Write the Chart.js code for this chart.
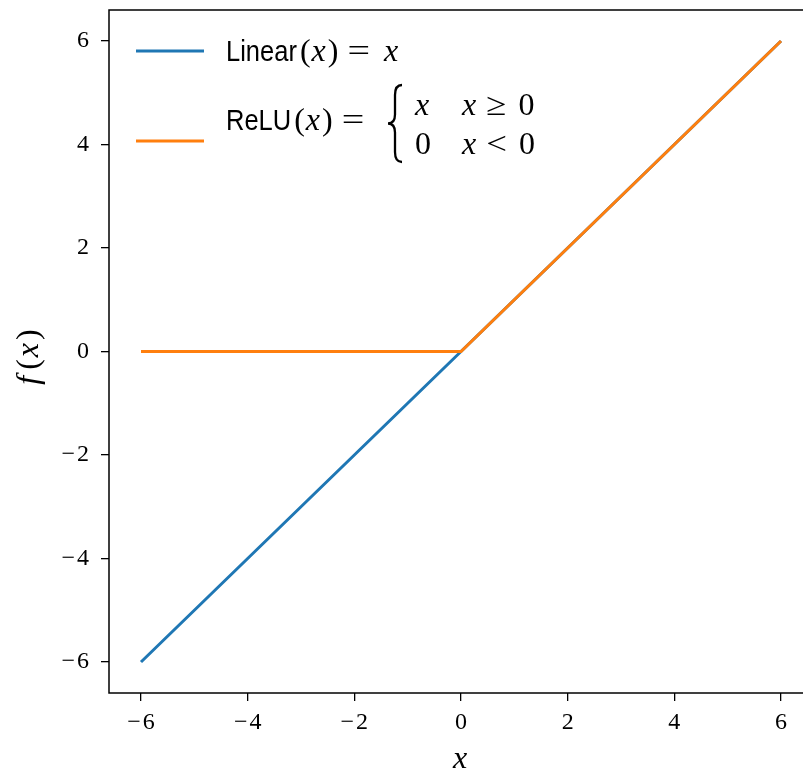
<!DOCTYPE html>
<html>
<head>
<meta charset="utf-8">
<script src="https://cdn.jsdelivr.net/npm/chart.js@4.4.0/dist/chart.umd.min.js"></script>
<style>
  html, body { margin: 0; padding: 0; background: #fff; overflow: hidden; }
  #wrap { width: 803px; height: 771px; overflow: hidden; }
</style>
</head>
<body>
<div id="wrap"><canvas id="reluChart" width="830" height="771"></canvas></div>
<script>
// --- dados ---
const xValues = [-6, -4, -2, 0, 2, 4, 6];
const linearValues = [-6, -4, -2, 0, 2, 4, 6];
const reluValues = [0, 0, 0, 0, 2, 4, 6];
const xTicks = [-6, -4, -2, 0, 2, 4, 6];
const yTicks = [-6, -4, -2, 0, 2, 4, 6];
const xRange = [-6.6, 6.6];
const yRange = [-6.6, 6.6];

const BLUE = '#1f77b4';
const ORANGE = '#ff7f0e';
const SERIF = '"Liberation Serif", serif';
const SANS = '"Liberation Sans", sans-serif';

function minusLabel(v) {
    return v < 0 ? '\u2212\u200A' + Math.abs(v) : String(v);
}

// desenha pedaços de texto com fontes diferentes em sequência
// (número = espaço em px; terceiro item = escala horizontal)
function drawRuns(ctx, runs, x, y) {
    runs.forEach(r => {
        if (typeof r === 'number') { x += r; return; }
        const sx = r[2] || 1;
        ctx.font = r[1];
        ctx.save();
        ctx.translate(x, y);
        ctx.scale(sx, 1);
        ctx.fillText(r[0], 0, 0);
        ctx.restore();
        x += ctx.measureText(r[0]).width * sx;
    });
    return x;
}

function runsWidth(ctx, runs) {
    let w = 0;
    runs.forEach(r => {
        if (typeof r === 'number') { w += r; return; }
        ctx.font = r[1];
        w += ctx.measureText(r[0]).width * (r[2] || 1);
    });
    return w;
}

const frameAndLegend = {
    id: 'frameAndLegend',
    afterDraw(chart) {
        const ctx = chart.ctx;
        const a = chart.chartArea;
        ctx.save();

        // moldura
        ctx.strokeStyle = '#000';
        ctx.lineWidth = 1.5;
        ctx.strokeRect(a.left, a.top, a.right - a.left, a.bottom - a.top);

        // legenda
        const sans = '30px ' + SANS;
        const rm = '32px ' + SERIF;
        const it = 'italic 32px ' + SERIF;
        const sq = 0.85, wide = 1.25;
        const hx1 = a.left + 27, hx2 = a.left + 95;
        const tx = a.left + 117;

        ctx.lineWidth = 3;
        ctx.strokeStyle = chart.data.datasets[0].borderColor;
        ctx.beginPath(); ctx.moveTo(hx1, a.top + 41); ctx.lineTo(hx2, a.top + 41); ctx.stroke();
        ctx.strokeStyle = chart.data.datasets[1].borderColor;
        ctx.beginPath(); ctx.moveTo(hx1, a.top + 131); ctx.lineTo(hx2, a.top + 131); ctx.stroke();

        ctx.fillStyle = '#000';
        ctx.textBaseline = 'alphabetic';
        ctx.textAlign = 'left';
        drawRuns(ctx, [['Linear', sans, sq], 3, ['(', rm], 1, ['x', it], 2, [')', rm], 9, ['=', rm, wide], 14, ['x', it]], tx, a.top + 51);
        drawRuns(ctx, [['ReLU', sans, sq], 3, ['(', rm], 1, ['x', it], 2, [')', rm], 9, ['=', rm, wide]], tx, a.top + 120);

        // chave
        const bx = a.left + 286, bt = a.top + 75, bb = a.top + 152, bm = (bt + bb) / 2, bw = 7;
        ctx.lineWidth = 2.3;
        ctx.strokeStyle = '#000';
        ctx.beginPath();
        ctx.moveTo(bx + bw, bt);
        ctx.quadraticCurveTo(bx, bt, bx, bt + 10);
        ctx.lineTo(bx, bm - 9);
        ctx.quadraticCurveTo(bx, bm, bx - bw, bm);
        ctx.quadraticCurveTo(bx, bm, bx, bm + 9);
        ctx.lineTo(bx, bb - 10);
        ctx.quadraticCurveTo(bx, bb, bx + bw, bb);
        ctx.stroke();

        const c1 = a.left + 306, c2 = a.left + 353;
        drawRuns(ctx, [['x', it]], c1, a.top + 105);
        drawRuns(ctx, [['x', it], 10, ['\u2265', rm, 1.15], 12, ['0', rm]], c2, a.top + 105);
        drawRuns(ctx, [['0', rm]], c1, a.top + 144);
        drawRuns(ctx, [['x', it], 10, ['<', rm, 1.15], 12, ['0', rm]], c2, a.top + 144);

        // título do eixo x
        ctx.textAlign = 'center';
        ctx.font = 'italic 32px ' + SERIF;
        ctx.fillText('x', (a.left + a.right) / 2 - 1, a.bottom + 75);

        // título do eixo y
        ctx.textAlign = 'left';
        const yRuns = [['f', it], 6, ['(', rm], 2, ['x', it], 3, [')', rm]];
        ctx.translate(30, 357);
        ctx.rotate(-Math.PI / 2);
        ctx.textBaseline = 'middle';
        drawRuns(ctx, yRuns, -runsWidth(ctx, yRuns) / 2, 0);
        ctx.restore();
    }
};

function buildChart() {
    new Chart(document.getElementById('reluChart'), {
        type: 'line',
        data: {
            datasets: [
                {
                    label: 'Linear',
                    data: xValues.map((x, i) => ({ x: x, y: linearValues[i] })),
                    borderColor: BLUE,
                    borderWidth: 3,
                    pointRadius: 0,
                    order: 2
                },
                {
                    label: 'ReLU',
                    data: xValues.map((x, i) => ({ x: x, y: reluValues[i] })),
                    borderColor: ORANGE,
                    borderWidth: 3,
                    pointRadius: 0,
                    order: 1
                }
            ]
        },
        options: {
            responsive: false,
            animation: false,
            layout: { padding: { top: 10, right: 17, left: 0, bottom: 0 } },
            plugins: { legend: { display: false }, tooltip: { enabled: false } },
            scales: {
                x: {
                    type: 'linear',
                    min: xRange[0],
                    max: xRange[1],
                    afterBuildTicks: s => { s.ticks = xTicks.map(v => ({ value: v })); },
                    afterFit: s => { s.height = 78; s.paddingLeft = 0; s.paddingRight = 0; },
                    border: { display: false },
                    grid: { drawOnChartArea: false, drawTicks: true, tickLength: 8, color: '#000', lineWidth: 1.3 },
                    ticks: { callback: minusLabel, color: '#000', padding: 7, maxRotation: 0, font: { family: SERIF, size: 24 } }
                },
                y: {
                    type: 'linear',
                    min: yRange[0],
                    max: yRange[1],
                    afterBuildTicks: s => { s.ticks = yTicks.map(v => ({ value: v })); },
                    afterFit: s => { s.width = 109; s.paddingTop = 0; s.paddingBottom = 0; },
                    border: { display: false },
                    grid: { drawOnChartArea: false, drawTicks: true, tickLength: 8, color: '#000', lineWidth: 1.3 },
                    ticks: { callback: minusLabel, color: '#000', padding: 12, font: { family: SERIF, size: 24 } }
                }
            }
        },
        plugins: [frameAndLegend]
    });
}

// espera as fontes locais antes de desenhar
Promise.all([
    document.fonts.load('24px "Liberation Serif"'),
    document.fonts.load('italic 32px "Liberation Serif"'),
    document.fonts.load('30px "Liberation Sans"')
]).then(buildChart, buildChart);
</script>
</body>
</html>
